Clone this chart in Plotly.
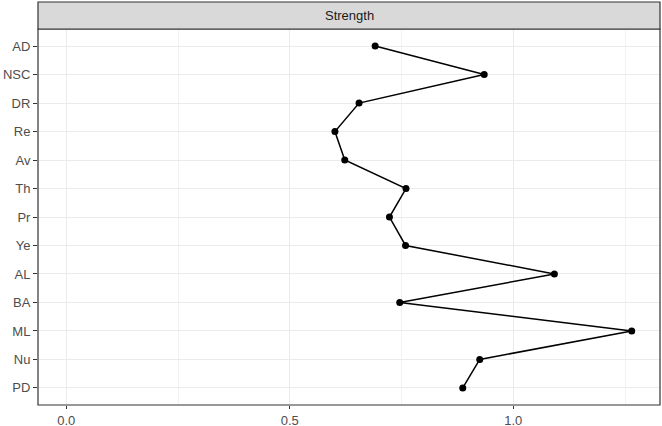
import plotly.graph_objects as go

categories = ["AD", "NSC", "DR", "Re", "Av", "Th", "Pr", "Ye", "AL", "BA", "ML", "Nu", "PD"]
strength = [0.691, 0.935, 0.655, 0.601, 0.623, 0.760, 0.723, 0.759, 1.092, 0.746, 1.265, 0.925, 0.887]
x_ticks = [0.0, 0.5, 1.0]
x_tick_labels = ["0.0", "0.5", "1.0"]
panel_title = "Strength"

FONT = "Liberation Sans, Arial, sans-serif"

fig = go.Figure(
    go.Scatter(
        x=strength,
        y=categories,
        mode="lines+markers",
        line=dict(color="black", width=1.5),
        marker=dict(color="black", size=7),
        hoverinfo="x+y",
    )
)

fig.update_layout(
    width=662,
    height=426,
    margin=dict(l=38, r=2, t=29, b=21),
    paper_bgcolor="white",
    plot_bgcolor="white",
    showlegend=False,
    font=dict(family=FONT, size=13, color="#4D4D4D"),
)

fig.update_xaxes(
    range=[-0.0633, 1.3283],
    tickvals=x_ticks,
    ticktext=x_tick_labels,
    showgrid=True,
    gridcolor="#EBEBEB",
    gridwidth=1.3,
    minor=dict(dtick=0.25, tick0=0, showgrid=True, gridcolor="#F2F2F2", gridwidth=0.8),
    ticks="outside",
    ticklen=3,
    tickcolor="#333333",
    tickfont=dict(family=FONT, size=13, color="#4D4D4D"),
    zeroline=False,
    showline=False,
    automargin=False,
)

fig.update_yaxes(
    type="category",
    categoryorder="array",
    categoryarray=categories,
    range=[len(categories) - 1 + 0.6, -0.6],
    showgrid=True,
    gridcolor="#EBEBEB",
    gridwidth=1.3,
    ticks="outside",
    ticklen=4,
    tickcolor="#333333",
    tickfont=dict(family=FONT, size=13, color="#4D4D4D"),
    zeroline=False,
    showline=False,
    automargin=False,
)

strip_h = 27 / 376
fig.add_shape(type="rect", xref="paper", yref="paper", x0=0, x1=1, y0=0, y1=1,
              line=dict(color="#333333", width=1.2), fillcolor="rgba(0,0,0,0)", layer="above")
fig.add_shape(type="rect", xref="paper", yref="paper", x0=0, x1=1, y0=1, y1=1 + strip_h,
              line=dict(color="#333333", width=1.2), fillcolor="#D9D9D9", layer="above")
fig.add_annotation(text=panel_title, xref="paper", yref="paper", x=0.5, y=1 + strip_h / 2,
                   showarrow=False, font=dict(family=FONT, size=13, color="#1A1A1A"),
                   xanchor="center", yanchor="middle")

# drop the browser's default 8px body margin so the figure sits at the page corner
fig.write_html(
    "out.html",
    config={"displayModeBar": False},
    post_script="document.body.style.margin = '0';",
)
